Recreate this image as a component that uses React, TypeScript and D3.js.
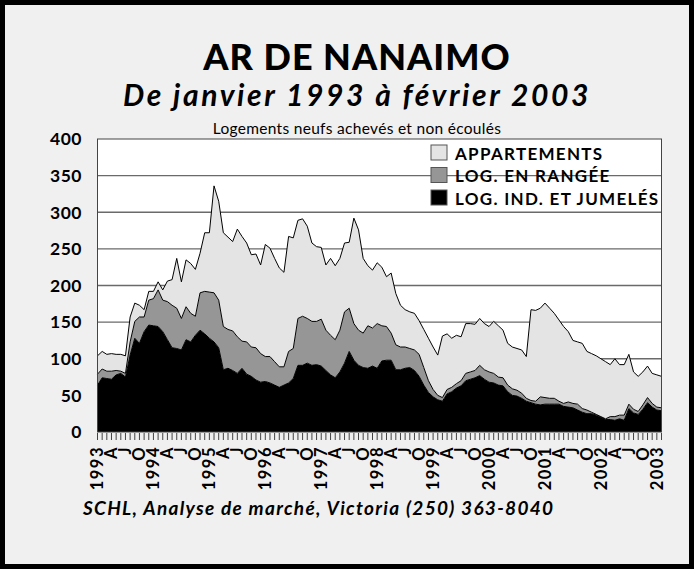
import React from 'react';
import * as d3 from 'd3';

// Jan 1993 .. Feb 2003, monthly
const indJumeles = [
  64, 74, 73, 72, 78, 80, 75, 105, 128, 121,
  137, 146, 145, 144, 137, 126, 115, 114, 112, 126,
  123, 132, 139, 134, 128, 123, 115, 85, 87, 84,
  80, 87, 79, 76, 71, 68, 69, 67, 64, 61,
  64, 67, 73, 91, 91, 94, 91, 92, 90, 84,
  78, 74, 82, 94, 110, 98, 91, 88, 87, 90,
  87, 97, 98, 98, 85, 85, 87, 88, 84, 76,
  64, 54, 48, 44, 42, 52, 55, 60, 63, 70,
  72, 74, 77, 72, 68, 67, 64, 63, 55, 50,
  49, 46, 42, 40, 38, 37, 38, 38, 38, 38,
  35, 34, 33, 30, 27, 25, 25, 23, 20, 17,
  17, 16, 18, 16, 32, 26, 24, 31, 40, 34,
  30, 29,
];
const enRangee = [
  15, 12, 10, 11, 6, 3, 5, 18, 23, 36,
  20, 34, 37, 50, 43, 52, 58, 55, 43, 45,
  39, 26, 51, 58, 63, 67, 65, 59, 53, 54,
  50, 37, 44, 40, 44, 39, 34, 36, 32, 28,
  25, 43, 41, 64, 67, 61, 60, 59, 64, 55,
  54, 52, 57, 70, 59, 50, 48, 47, 58, 52,
  61, 48, 46, 37, 34, 31, 29, 26, 28, 30,
  24, 16, 10, 6, 5, 6, 6, 6, 7, 10,
  10, 10, 14, 13, 14, 13, 11, 11, 9, 9,
  8, 7, 4, 3, 4, 11, 9, 8, 8, 4,
  4, 7, 6, 8, 5, 5, 2, 1, 1, 1,
  4, 5, 5, 7, 6, 5, 4, 6, 7, 5,
  4, 4,
];
const appartements = [
  25, 24, 23, 24, 22, 23, 24, 34, 25, 16,
  10, 12, 10, 11, 14, 28, 35, 68, 50, 64,
  68, 64, 54, 80, 81, 146, 135, 128, 126, 122,
  147, 143, 135, 126, 128, 121, 153, 148, 141, 135,
  129, 157, 151, 134, 133, 126, 107, 102, 98, 89,
  105, 101, 98, 94, 90, 144, 137, 102, 82, 79,
  83, 80, 68, 82, 70, 57, 51, 50, 50, 46,
  52, 58, 58, 55, 84, 76, 67, 66, 60, 68,
  66, 63, 64, 63, 62, 71, 70, 65, 57, 57,
  57, 59, 57, 124, 124, 121, 129, 123, 116, 111,
  105, 96, 86, 85, 89, 80, 80, 80, 79, 78,
  71, 79, 69, 69, 68, 51, 48, 45, 43, 41,
  44, 43,
];

const xLabels = [
  '1993', 'A', 'J', 'O', '1994', 'A', 'J', 'O', '1995', 'A', 'J', 'O',
  '1996', 'A', 'J', 'O', '1997', 'A', 'J', 'O', '1998', 'A', 'J', 'O',
  '1999', 'A', 'J', 'O', '2000', 'A', 'J', 'O', '2001', 'A', 'J', 'O',
  '2002', 'A', 'J', 'O', '2003',
];
const yTicks = [0, 50, 100, 150, 200, 250, 300, 350, 400];

const seriesNames = ['LOG. IND. ET JUMELÉS', 'LOG. EN RANGÉE', 'APPARTEMENTS'];
const seriesColors = ['#000000', '#969696', '#e4e4e4'];

const W = 694;
const H = 569;
const FONT = "Lato, 'Open Sans', sans-serif";

export default function App() {
  const plot = { left: 97.5, right: 661.5, top: 139, bottom: 432 };

  const rows = indJumeles.map((v, i) => ({ i, a: v, b: enRangee[i], c: appartements[i] }));
  const stacked = d3.stack<any>().keys(['a', 'b', 'c'])(rows);

  const x = d3.scaleLinear().domain([0, rows.length - 1]).range([plot.left, plot.right]);
  const y = d3.scaleLinear().domain([0, 400]).range([plot.bottom, plot.top]);

  const area = d3.area<any>()
    .x((d) => x(d.data.i))
    .y0((d) => y(d[0]))
    .y1((d) => y(d[1]));
  const topLine = d3.line<any>()
    .x((d) => x(d.data.i))
    .y((d) => y(d[1]));

  const legendItems = [
    { name: seriesNames[2], color: seriesColors[2] },
    { name: seriesNames[1], color: seriesColors[1] },
    { name: seriesNames[0], color: seriesColors[0] },
  ];

  return (
    <svg width={W} height={H} style={{ position: 'absolute', left: 0, top: 0, display: 'block' }}>
      <rect x={0} y={0} width={W} height={H} fill="#000" />
      <rect x={5} y={5} width={W - 10} height={H - 10} fill="#f0f0f0" />

      <text x={357} y={70} textAnchor="middle" fontFamily={FONT} fontWeight={900} fontSize={36} letterSpacing={1} fill="#000">
        AR DE NANAIMO
      </text>
      <text x={357} y={106} textAnchor="middle" fontFamily={FONT} fontWeight={700} fontStyle="italic" fontSize={30} letterSpacing={2.6} fill="#000">
        De janvier 1993 à février 2003
      </text>
      <text x={357} y={134} textAnchor="middle" fontFamily={FONT} fontSize={15.5} letterSpacing={0.3} fill="#000">
        Logements neufs achevés et non écoulés
      </text>

      {/* plot area */}
      <rect x={plot.left} y={plot.top} width={plot.right - plot.left} height={plot.bottom - plot.top} fill="#fff" />
      {yTicks.slice(1, -1).map((t) => (
        <line key={t} x1={plot.left} x2={plot.right} y1={y(t)} y2={y(t)} stroke="#6a6a6a" strokeWidth={1.3} />
      ))}

      {stacked.map((s, k) => (
        <path key={'a' + k} d={area(s) || ''} fill={seriesColors[k]} />
      ))}
      {stacked.map((s, k) => (
        <path key={'l' + k} d={topLine(s) || ''} fill="none" stroke="#000" strokeWidth={1} strokeLinejoin="round" />
      ))}

      <rect x={plot.left} y={plot.top} width={plot.right - plot.left} height={plot.bottom - plot.top}
        fill="none" stroke="#444" strokeWidth={1} />

      {/* legend */}
      {legendItems.map((it, k) => (
        <g key={it.name} transform={`translate(431, ${145 + k * 22.5})`}>
          <rect x={0} y={0} width={16} height={15} fill={it.color} stroke="#555" strokeWidth={1} />
          <text x={24} y={14.5} fontFamily={FONT} fontWeight={700} fontSize={17} letterSpacing={1.3} fill="#000">
            {it.name}
          </text>
        </g>
      ))}

      {/* y axis */}
      {yTicks.map((t) => (
        <text key={t} x={82} y={y(t)} dy="0.36em" textAnchor="end" fontFamily={FONT} fontWeight={700} fontSize={17.5} letterSpacing={0.5} fill="#000">
          {t}
        </text>
      ))}

      {/* x axis */}
      {rows.map((r) => (
        <line key={r.i} x1={x(r.i)} x2={x(r.i)} y1={plot.bottom + 1} y2={plot.bottom + 8} stroke="#444" strokeWidth={1} />
      ))}
      {xLabels.map((lab, k) => (
        <text key={k} transform={`translate(${x(k * 3)}, 446) rotate(-90)`} dy="0.36em" textAnchor="end"
          fontFamily={FONT} fontWeight={700} fontSize={16.5} letterSpacing={1.5} fill="#000">
          {lab}
        </text>
      ))}

      <text x={83} y={515} fontFamily={FONT} fontWeight={700} fontStyle="italic" fontSize={19} letterSpacing={1.3} fill="#000">
        SCHL, Analyse de marché, Victoria (250) 363-8040
      </text>
    </svg>
  );
}
